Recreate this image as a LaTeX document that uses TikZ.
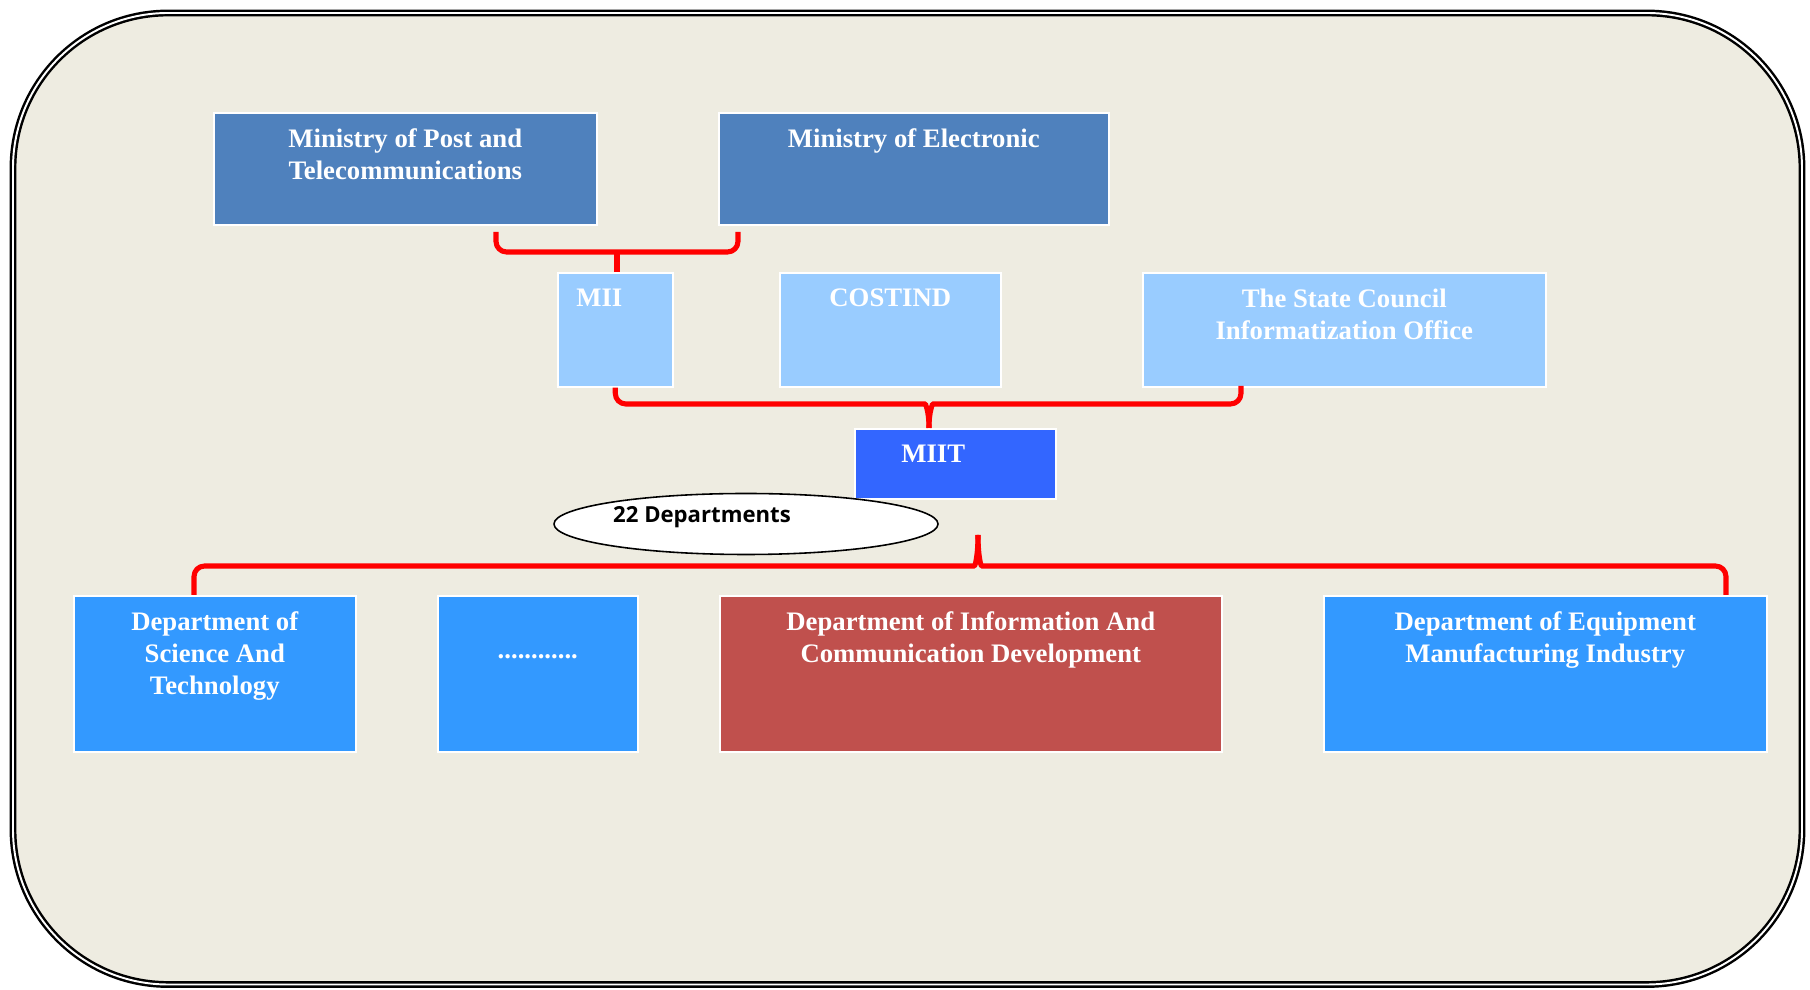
\documentclass[tikz,border=0pt]{standalone}
\usepackage{fontspec}
\setmainfont{Liberation Serif}
\newfontfamily\ellfont{Open Sans}
\usepackage{tikz}
\usetikzlibrary{calc,positioning,shapes.geometric}
\definecolor{paper}{HTML}{EEECE1}
\definecolor{topblue}{HTML}{4F81BD}
\definecolor{paleblue}{HTML}{99CCFF}
\definecolor{miitblue}{HTML}{3366FF}
\definecolor{deptblue}{HTML}{3399FF}
\definecolor{deptred}{HTML}{C0504D}
\definecolor{linkred}{HTML}{FF0000}
\tikzset{
  orgbox/.style={draw=white,line width=0.45pt,inner sep=0pt,anchor=north west},
  boxtext/.style={text=white,font=\fontsize{7.6}{9.1}\selectfont\bfseries,
    align=center,inner sep=0pt,anchor=north},
  link/.style={draw=linkred,line width=1.45pt,rounded corners=3pt,line join=round},
  every node/.style={font=\small}
}

\begin{document}
\begin{tikzpicture}[x=0.1mm,y=-0.1mm]
  \useasboundingbox (0,0) rectangle (1810,990);
  \draw[fill=paper,line width=0.7pt,double=white,double distance=0.55pt,
    rounded corners=15.5mm] (13,13) rectangle (1802,984.5);
  % old ministries
  \node[orgbox,fill=topblue,minimum width=38.3mm,minimum height=11.2mm] (mpt) at (213,112) {};
  \node[orgbox,fill=topblue,minimum width=39mm,minimum height=11.2mm] (me) at (718,112) {};
  \node[boxtext] (mpt-t) at ($(mpt.north)+(0,16)$) {Ministry of Post and\\Telecommunications};
  \node[boxtext] (me-t) at ($(me.north)+(0,16)$) {Ministry of Electronic};
  % merged bodies
  \node[orgbox,fill=paleblue,minimum width=11.5mm,minimum height=11.4mm] (mii) at (557,272) {};
  \node[orgbox,fill=paleblue,minimum width=22.1mm,minimum height=11.4mm] (cost) at (779,272) {};
  \node[orgbox,fill=paleblue,minimum width=40.3mm,minimum height=11.4mm] (sc) at (1142,272) {};
  \node[boxtext] (mii-t) at ($(mii.north)+(-16,16)$) {MII};
  \node[boxtext] (cost-t) at ($(cost.north)+(0,16)$) {COSTIND};
  \node[boxtext] (sc-t) at ($(sc.north)+(0,16)$) {The State Council\\Informatization Office};
  \node[orgbox,fill=miitblue,minimum width=20.1mm,minimum height=7mm] (miit) at (854,428) {};
  \node[boxtext] (miit-t) at ($(miit.north)+(-22,16)$) {MIIT};
  % departments
  \node[orgbox,fill=deptblue,minimum width=28.2mm,minimum height=15.6mm] (dst) at (73,595) {};
  \node[orgbox,fill=deptblue,minimum width=20mm,minimum height=15.6mm] (dots) at (437,595) {};
  \node[orgbox,fill=deptred,minimum width=50.2mm,minimum height=15.6mm] (icd) at (719,595) {};
  \node[orgbox,fill=deptblue,minimum width=44.3mm,minimum height=15.6mm] (equip) at (1323,595) {};
  \node[boxtext] (dst-t) at ($(dst.north)+(0,16)$) {Department of\\Science And\\Technology};
  \node[boxtext,anchor=base] (dots-t) at ($(dots.north)+(0,64)$) {............};
  \node[boxtext] (icd-t) at ($(icd.north)+(0,16)$) {Department of Information And\\Communication Development};
  \node[boxtext] (equip-t) at ($(equip.north)+(0,16)$) {Department of Equipment\\Manufacturing Industry};
  % braces
  \coordinate (b1l) at (496,232);
  \coordinate (b1r) at (738,232);
  \coordinate (b1m) at (617,252);
  \draw[link] (b1l) |- (b1m) -| (b1r);
  \draw[link] (b1m) -- (b1m |- mii.north);
  \coordinate (b2r) at (1241,386);
  \coordinate (b2tip) at ($(miit.north west)+(75,0)$);
  \draw[link] (mii.south) |- (915,404) .. controls (925,404) and (929,410) .. (b2tip);
  \draw[link] (b2r) |- (943,404) .. controls (933,404) and (929,410) .. (b2tip);
  \coordinate (b3l) at ($(dst.north west)+(121,0)$);
  \coordinate (b3r) at ($(equip.north west)+(403,0)$);
  \coordinate (b3tip) at (978,535);
  \draw[link] (b3l) |- (964,566) .. controls (975,566) and (978,556) .. (b3tip);
  \draw[link] (b3r) |- (992,566) .. controls (981,566) and (978,556) .. (b3tip);
  % count label
  \node[ellipse,draw=black,fill=white,line width=0.45pt,inner sep=0pt,
    minimum width=38.4mm,minimum height=6.1mm] (ell) at (746,524) {};
  \node[font=\ellfont\bfseries\fontsize{6.3}{7}\selectfont,anchor=base,inner sep=0pt]
    (ell-t) at (702,523) {22 Departments};
\end{tikzpicture}
\end{document}
